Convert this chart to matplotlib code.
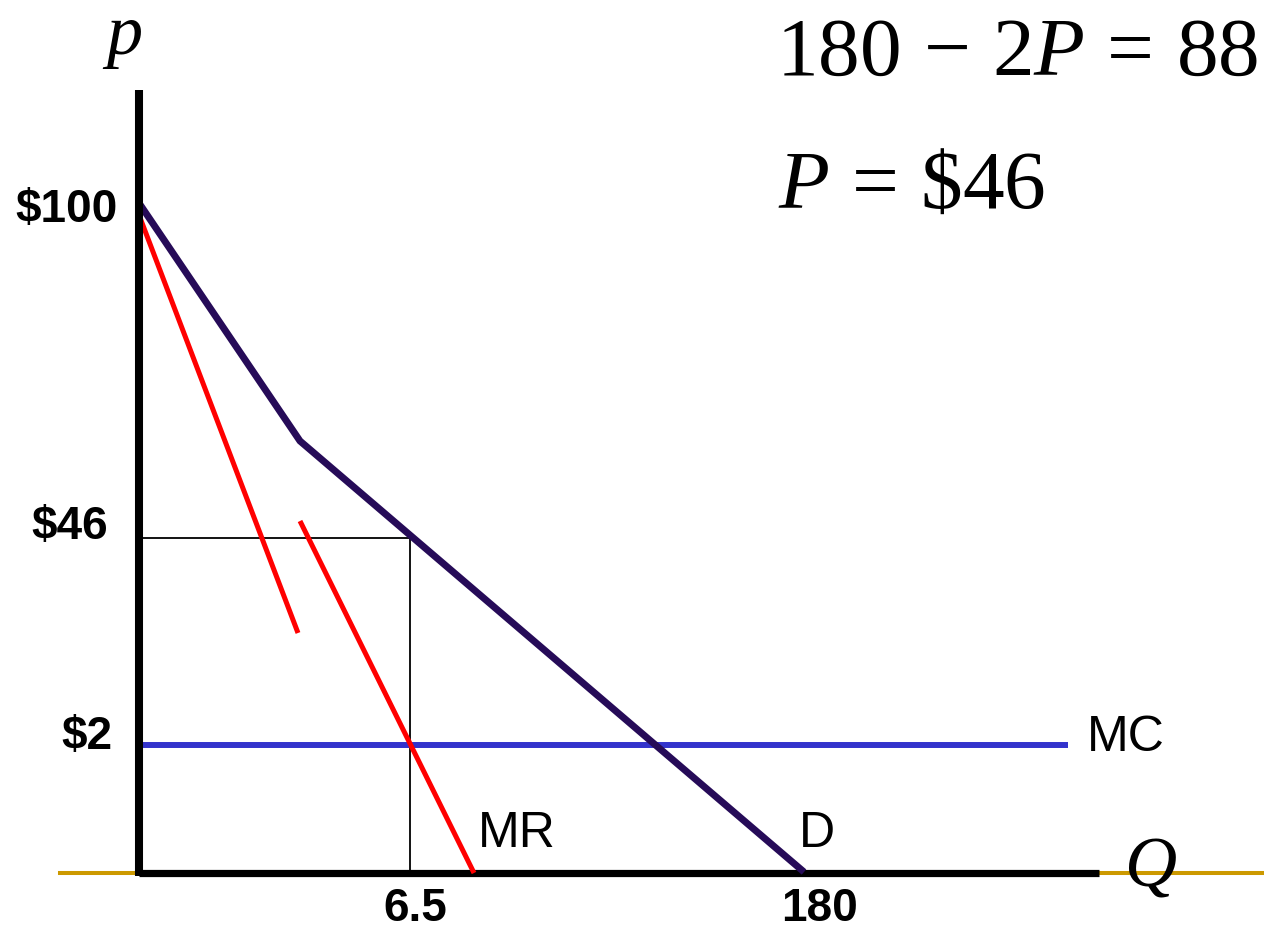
import matplotlib
matplotlib.use('Agg')
import matplotlib.pyplot as plt

plt.rcParams['mathtext.fontset'] = 'custom'
plt.rcParams['mathtext.rm'] = 'Liberation Serif'
plt.rcParams['mathtext.it'] = 'Liberation Serif:italic'

# diagram units: quantity to the right, price upward (schematic, not to scale)
demand_q = [0, 161, 665]
demand_p = [670, 432, 1]
mr_upper_q = [0, 159]
mr_upper_p = [658, 240]
mr_lower_q = [161, 335]
mr_lower_p = [352, 0]
mc_q = [0, 929]
mc_p = [128, 128]
opt_q = 271
opt_p = 335

price_ticks = [663, 346, 136]
price_labels = ['$100', '$46', '$2']
qty_ticks = [276, 681]
qty_labels = ['6.5', '180']

fig = plt.figure(figsize=(12.64, 9.32), dpi=100)
ax = fig.add_axes([0, 0, 1, 1])
ax.set_xlim(-139, 1125)
ax.set_ylim(-59, 873)
ax.axis('off')

# axes of the diagram
ax.plot([-79, 1125], [0, 0], color='#cc9900', lw=2.9, zorder=1)
ax.plot([0, 960], [0, 0], color='black', lw=5.2, solid_capstyle='butt', zorder=2)
ax.plot([0, 0], [-3, 783], color='black', lw=5.8, solid_capstyle='butt', zorder=5)

# optimum guide lines
ax.plot([0, opt_q, opt_q], [opt_p, opt_p, 0], color='black', lw=1.3, zorder=2)

ax.plot(mc_q, mc_p, color='#3333cc', lw=4.3, solid_capstyle='butt', zorder=3)
ax.plot(mr_upper_q, mr_upper_p, color='#ff0000', lw=3.6, solid_capstyle='butt', zorder=3)
ax.plot(mr_lower_q, mr_lower_p, color='#ff0000', lw=3.6, solid_capstyle='butt', zorder=3)
ax.plot(demand_q, demand_p, color='#260b58', lw=5.0, solid_capstyle='butt',
        solid_joinstyle='miter', zorder=4)

label_dx = [-21, -31, -27]
for y, lab, dx in zip(price_ticks, price_labels, label_dx):
    ax.text(dx, y, lab, ha='right', va='center', fontsize=33, fontweight='bold',
            family='Liberation Sans')
for x, lab in zip(qty_ticks, qty_labels):
    ax.text(x, -36, lab, ha='center', va='center', fontsize=33, fontweight='bold',
            family='Liberation Sans')

ax.text(948, 135, 'MC', ha='left', va='center', fontsize=36, family='Liberation Sans')
ax.text(339, 39, 'MR', ha='left', va='center', fontsize=36, family='Liberation Sans')
ax.text(660, 39, 'D', ha='left', va='center', fontsize=36, family='Liberation Sans')

ax.text(-15, 819, 'p', ha='center', va='baseline', fontsize=52,
        family='Liberation Serif', style='italic')
ax.text(1011, -14, 'Q', ha='center', va='baseline', fontsize=52,
        family='Liberation Serif', style='italic')

ax.text(637, 798, r'$180\,-\,2P\,=\,88$', ha='left', va='baseline', fontsize=60)
ax.text(639, 665, r'$P\,=\,\$46$', ha='left', va='baseline', fontsize=60)

fig.savefig('out.png', dpi=100)
